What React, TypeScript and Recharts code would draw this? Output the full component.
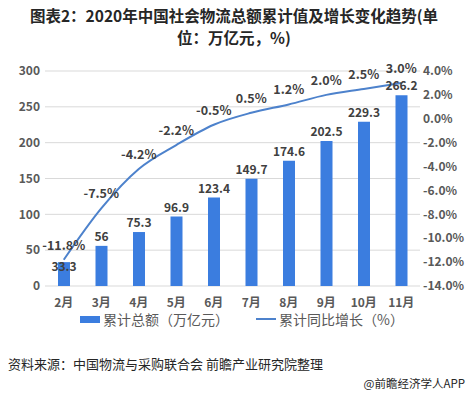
import { Bar, CartesianGrid, ComposedChart, LabelList, Line, XAxis, YAxis } from 'recharts'

const months = ['2月', '3月', '4月', '5月', '6月', '7月', '8月', '9月', '10月', '11月']
const totals = [33.3, 56, 75.3, 96.9, 123.4, 149.7, 174.6, 202.5, 229.3, 266.2]
const growth = [-11.8, -7.5, -4.2, -2.2, -0.5, 0.5, 1.2, 2.0, 2.5, 3.0]
const leftTicks = [0, 50, 100, 150, 200, 250, 300]
const rightTicks = [-14, -12, -10, -8, -6, -4, -2, 0, 2, 4]
const titleLines = ['图表2：2020年中国社会物流总额累计值及增长变化趋势(单', '位：万亿元，%)']

const data = months.map((name, i) => ({ name, total: totals[i], growth: growth[i] }))

const BAR = '#3b7ddf'
const LINE = '#4d82cc'
const FONT = '"Noto Sans CJK SC", "Noto Sans", sans-serif'

// the first bar's value sits lower in the original, right on the bar top
function BarValue(props: any) {
  const { x, y, width, value, index } = props
  const shift = index === 0 ? 14 : 0
  return (
    <text
      x={x + width / 2}
      y={y - 5 + shift}
      textAnchor='middle'
      fill='#404040'
      fontSize={12}
      fontWeight={700}
    >
      {value}
    </text>
  )
}

export default function App() {
  return (
    <div style={{ position: 'absolute', left: 0, top: 0, width: 468, height: 397, background: '#fff', fontFamily: FONT }}>
      {titleLines.map((t, i) => (
        <div
          key={i}
          style={{
            position: 'absolute',
            top: 4 + i * 22,
            left: 0,
            width: 468,
            textAlign: 'center',
            fontWeight: 700,
            fontSize: 15.5,
            lineHeight: '22px',
            color: '#262626',
          }}
        >
          {t}
        </div>
      ))}
      <div style={{ position: 'absolute', top: 0, left: 0 }}>
        <ComposedChart width={468} height={318} data={data} margin={{ top: 71, right: 0, left: 0, bottom: 0 }}>
          <CartesianGrid vertical={false} stroke='#d9d9d9' yAxisId='left' />
          <XAxis
            dataKey='name'
            axisLine={false}
            tickLine={false}
            height={32}
            tick={{ fill: '#595959', fontSize: 12, fontWeight: 700, dy: 4 }}
          />
          <YAxis
            yAxisId='left'
            domain={[0, 300]}
            ticks={leftTicks}
            width={45}
            axisLine={false}
            tickLine={false}
            tickSize={3}
            tickMargin={2}
            tick={{ fill: '#595959', fontSize: 12, fontWeight: 700 }}
          />
          <YAxis
            yAxisId='right'
            orientation='right'
            domain={[-14, 4]}
            ticks={rightTicks}
            width={48}
            axisLine={false}
            tickLine={false}
            tickSize={1}
            tickMargin={2}
            tickFormatter={(v) => `${v.toFixed(1)}%`}
            tick={{ fill: '#595959', fontSize: 12, fontWeight: 700 }}
          />
          <Bar yAxisId='left' dataKey='total' fill={BAR} barSize={12} isAnimationActive={false}>
            <LabelList dataKey='total' content={BarValue} />
          </Bar>
          <Line
            yAxisId='right'
            type='monotone'
            dataKey='growth'
            stroke={LINE}
            strokeWidth={2}
            dot={false}
            isAnimationActive={false}
          >
            <LabelList
              dataKey='growth'
              position='top'
              offset={10}
              fill='#404040'
              fontSize={12.5}
              fontWeight={700}
              formatter={(v: number) => `${v.toFixed(1)}%`}
            />
          </Line>
        </ComposedChart>
      </div>
      <div
        style={{
          position: 'absolute',
          top: 312,
          left: 80,
          display: 'flex',
          alignItems: 'center',
          fontSize: 14,
          lineHeight: '14px',
          color: '#595959',
        }}
      >
        <span style={{ display: 'inline-block', width: 20, height: 7, background: BAR, marginRight: 3 }} />
        <span>累计总额（万亿元）</span>
        <span style={{ display: 'inline-block', width: 20, height: 2, background: LINE, marginLeft: 27, marginRight: 3 }} />
        <span>累计同比增长（%）</span>
      </div>
      <div style={{ position: 'absolute', top: 354, left: 8, fontSize: 13, color: '#262626' }}>
        资料来源：中国物流与采购联合会 前瞻产业研究院整理
      </div>
      <div style={{ position: 'absolute', top: 375, right: 3, fontSize: 11.5, color: '#262626' }}>@前瞻经济学人APP</div>
    </div>
  )
}
